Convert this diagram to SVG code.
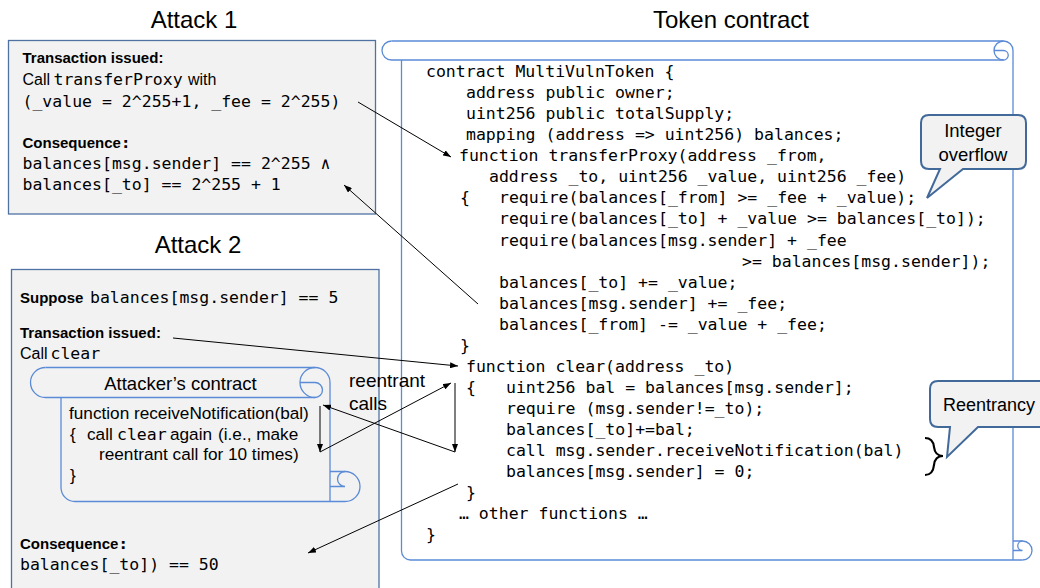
<svg xmlns="http://www.w3.org/2000/svg" width="1040" height="588" viewBox="0 0 1040 588">
<style>
.sans{font-family:"Liberation Sans",Arial,sans-serif;fill:#000}
.mono{font-family:"DejaVu Sans Mono","Liberation Mono",monospace;font-size:16.5px;fill:#000}
.b{font-weight:bold;font-size:15px}
.title{font-size:24px}
.box{fill:#f2f2f2;stroke:#4f72a3;stroke-width:1.3}
.scroll{fill:none;stroke:#5b8bd6;stroke-width:1.3}
.call{fill:#f2f2f2;stroke:#41699a;stroke-width:2}
.conn{stroke:#000;stroke-width:1;fill:none;marker-end:url(#ah)}
.body{font-size:17.2px}
</style>
<defs>
<marker id="ah" markerUnits="userSpaceOnUse" markerWidth="8" markerHeight="6" refX="8" refY="3" orient="auto">
<path d="M0,0 L8,3 L0,6 z" fill="#000"/>
</marker>
</defs>

<rect width="1040" height="588" fill="#fff"/>

<g id="titles">
<text class="sans title" x="194" y="28" text-anchor="middle">Attack 1</text>
<text class="sans title" x="731" y="28" text-anchor="middle">Token contract</text>
<text class="sans title" x="198" y="253" text-anchor="middle">Attack 2</text>
</g>

<g id="attack1">
<rect class="box" x="8.5" y="40.5" width="367" height="173.5"/>
<text class="sans b" x="22.5" y="63">Transaction issued:</text>
<text class="sans" x="22.5" y="85" font-size="16">Call</text>
<text class="mono" x="53.5" y="85">transferProxy</text>
<text class="sans" x="188" y="85" font-size="16">with</text>
<text class="mono" x="22.5" y="106.5">(_value = 2^255+1, _fee = 2^255)</text>
<text x="22.5" y="148"><tspan class="sans b">Consequence</tspan><tspan class="mono" font-weight="bold">:</tspan></text>
<text class="mono" x="22.5" y="169">balances[msg.sender] == 2^255 ∧</text>
<text class="mono" x="22.5" y="190">balances[_to] == 2^255 + 1</text>
</g>

<g id="attack2">
<rect class="box" x="11.5" y="269.5" width="367.5" height="330"/>
<text class="sans b" x="20" y="303">Suppose</text>
<text class="mono" x="90" y="303">balances[msg.sender] == 5</text>
<text class="sans b" x="20" y="337.5">Transaction issued:</text>
<text class="sans" x="20" y="359" font-size="16">Call</text>
<text class="mono" x="50.5" y="359">clear</text>
<text x="20" y="549"><tspan class="sans b">Consequence</tspan><tspan class="mono" font-weight="bold">:</tspan></text>
<text class="mono" x="20" y="570">balances[_to]) == 50</text>
</g>

<g id="attacker-contract">
<path d="M330,382.5 V501.5 H75 A14,14 0 0 1 61,487.5 V397.5 H45.5 A15,15 0 0 1 45.5,367.5 H315 A15,15 0 0 1 330,382.5 Z" fill="#f2f2f2" stroke="none"/>
<path class="scroll" d="M45.5,367.5 H315 A15,15 0 0 1 330,382.5 V501.5"/>
<path class="scroll" d="M45.5,367.5 A15,15 0 0 0 45.5,397.5 H315"/>
<path class="scroll" d="M315,367.5 A15,15 0 0 0 315,397.5 A7.5,7.5 0 0 0 315,382.5 L300,382.5"/>
<path class="scroll" d="M61,397.5 V487.5 A14,14 0 0 0 75,501.5 H345"/>
<path class="scroll" d="M330,471.5 H345 A15,15 0 0 1 345,501.5"/>
<path class="scroll" d="M345,471.5 A7.5,7.5 0 0 0 345,486.5 L330,486.5"/>
<text class="sans" x="180.5" y="390" font-size="18.5" text-anchor="middle">Attacker’s contract</text>
<text class="sans body" x="69" y="418.5">function receiveNotification(bal)</text>
<text class="sans body" x="70" y="439.5">{</text>
<text class="sans body" x="87" y="439.5">call</text>
<text class="mono" x="117" y="439.5" font-size="15.6">clear</text>
<text class="sans body" x="170" y="439.5">again</text>
<text class="sans body" x="218" y="439.5">(i.e., make</text>
<text class="sans body" x="99" y="459.5">reentrant call for 10 times)</text>
<text class="sans body" x="70" y="480.5">}</text>
</g>

<g id="token-contract">
<path d="M401.5,60 V551 A9,9 0 0 0 410.5,560 H1013 V50.5 Z" fill="#fff" stroke="none"/>
<path class="scroll" d="M391.5,41 H1003.5 A9.5,9.5 0 0 1 1013,50.5 V560"/>
<path class="scroll" d="M391.5,41 A9.5,9.5 0 0 0 391.5,60 H1003.5"/>
<path class="scroll" d="M1003.5,41 A9.5,9.5 0 0 0 1003.5,60 A4.75,4.75 0 0 0 1003.5,50.5 L994,50.5"/>
<path class="scroll" d="M401.5,60 V551 A9,9 0 0 0 410.5,560 H1022.5"/>
<path class="scroll" d="M1013,541 H1022.5 A9.5,9.5 0 0 1 1022.5,560"/>
<path class="scroll" d="M1022.5,541 A4.75,4.75 0 0 0 1022.5,550.5 L1013,550.5"/>
<g class="mono">
<text x="426" y="77">contract MultiVulnToken {</text>
<text x="466" y="98">address public owner;</text>
<text x="466" y="119">uint256 public totalSupply;</text>
<text x="466" y="140">mapping (address =&gt; uint256) balances;</text>
<text x="459" y="161">function transferProxy(address _from,</text>
<text x="489" y="182">address _to, uint256 _value, uint256 _fee)</text>
<text x="460" y="203">{</text>
<text x="499" y="203">require(balances[_from] &gt;= _fee + _value);</text>
<text x="499" y="224">require(balances[_to] + _value &gt;= balances[_to]);</text>
<text x="499" y="245.5">require(balances[msg.sender] + _fee</text>
<text x="742" y="266.5">&gt;= balances[msg.sender]);</text>
<text x="499" y="287.5">balances[_to] += _value;</text>
<text x="499" y="308.5">balances[msg.sender] += _fee;</text>
<text x="499" y="329.5">balances[_from] -= _value + _fee;</text>
<text x="460" y="350.5">}</text>
<text x="466" y="371.5">function clear(address _to)</text>
<text x="466" y="392.5">{</text>
<text x="506" y="392.5">uint256 bal = balances[msg.sender];</text>
<text x="506" y="413.5">require (msg.sender!=_to);</text>
<text x="506" y="434.5">balances[_to]+=bal;</text>
<text x="506" y="456">call msg.sender.receiveNotification(bal)</text>
<text x="506" y="477">balances[msg.sender] = 0;</text>
<text x="466" y="498">}</text>
<text x="459" y="519">… other functions …</text>
<text x="426" y="540">}</text>
</g>
</g>

<g id="integer-overflow">
<path class="call" d="M929,115 H1018 Q1026,115 1026,123 V161 Q1026,169 1018,169 H963 L927,198 L940,169 H929 Q921,169 921,161 V123 Q921,115 929,115 Z"/>
<text class="sans" x="973" y="137" font-size="18.5" text-anchor="middle">Integer</text>
<text class="sans" x="973" y="161" font-size="18.5" text-anchor="middle">overflow</text>
</g>

<g id="reentrancy">
<path class="call" d="M938,381 H1050 V427 H978 L947,457 L950,427 H938 Q930,427 930,419 V389 Q930,381 938,381 Z"/>
<text class="sans" x="943" y="411" font-size="18">Reentrancy</text>
</g>

<g id="brace">
<path d="M925,438 Q933,438 934,447 Q935,456 943,456 Q935,456 934,465 Q933,475 925,475" fill="none" stroke="#000" stroke-width="2.2"/>
</g>

<g id="labels">
<text class="sans" x="349" y="387" font-size="19">reentrant</text>
<text class="sans" x="349" y="410" font-size="19">calls</text>
</g>

<g id="connectors">
<line class="conn" x1="358" y1="102" x2="451" y2="157"/>
<line class="conn" x1="478" y1="304" x2="344" y2="185"/>
<line class="conn" x1="173" y1="338" x2="458" y2="366"/>
<line class="conn" x1="320" y1="452" x2="451" y2="383"/>
<line class="conn" x1="455" y1="383" x2="455" y2="452"/>
<line class="conn" x1="455" y1="452" x2="323" y2="405"/>
<line class="conn" x1="320" y1="406" x2="320" y2="452"/>
<line class="conn" x1="458" y1="484" x2="308" y2="553"/>
</g>
</svg>
